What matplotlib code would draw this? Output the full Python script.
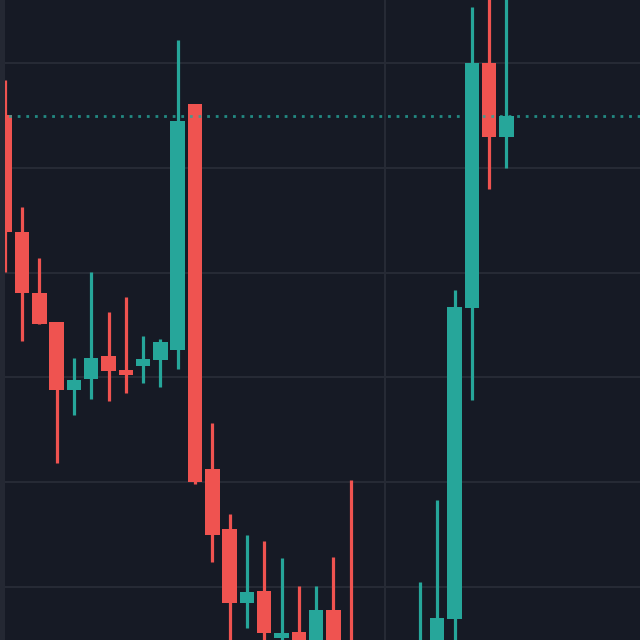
import matplotlib
matplotlib.use("Agg")
import matplotlib.pyplot as plt
from matplotlib.patches import Rectangle

# OHLC data (candle index = position)
opens = [145.04, 133.87, 128.05, 125.29, 118.80, 119.85, 122.04, 120.71, 121.09, 121.66,
         122.61, 146.09, 111.26, 105.53, 98.47, 99.62, 95.13, 95.71, 93.51, 97.81,
         93.00, 90.50, 88.00, 89.50, 91.00, 93.50, 96.95, 126.62, 150.00, 142.94]
highs = [148.38, 136.26, 131.39, 125.29, 121.85, 130.06, 126.24, 127.67, 123.95, 123.66,
         152.19, 146.09, 115.65, 106.97, 104.96, 104.39, 102.77, 100.10, 100.10, 102.86,
         110.21, 92.00, 91.50, 93.00, 100.48, 108.30, 128.34, 155.34, 156.60, 157.00]
lows = [130.06, 123.47, 125.10, 111.83, 116.41, 117.94, 117.75, 118.51, 119.47, 119.08,
        120.80, 109.83, 102.39, 93.99, 96.09, 93.51, 93.80, 92.56, 92.84, 92.08,
        88.50, 86.50, 87.00, 88.50, 90.00, 92.50, 93.99, 117.84, 137.98, 139.98]
closes = [133.87, 128.05, 125.10, 118.80, 119.75, 121.85, 120.61, 120.23, 121.76, 123.38,
          144.47, 110.02, 104.96, 98.47, 99.52, 95.61, 95.61, 93.99, 97.81, 93.03,
          90.50, 88.00, 89.50, 91.00, 93.50, 97.04, 126.72, 150.00, 142.94, 144.94]
grid_prices = [100, 110, 120, 130, 140, 150]
vgrid_index = [22]

UP = "#26a69a"
DOWN = "#ef5350"
BG = "#161a25"
GRID = "#262a35"

fig = plt.figure(figsize=(6.4, 6.4), dpi=100, facecolor=BG)
ax = fig.add_axes([0, 0, 1, 1])
ax.set_facecolor(BG)

for p in grid_prices:
    ax.axhline(p, color=GRID, lw=1.5, zorder=0)
for v in vgrid_index:
    ax.axvline(v, color=GRID, lw=1.5, zorder=0)

body_w = 0.84
for i, (o, h, l, c) in enumerate(zip(opens, highs, lows, closes)):
    col = UP if c >= o else DOWN
    ax.vlines(i, l, h, color=col, lw=2.3, zorder=2)
    bottom = min(o, c)
    height = max(abs(c - o), 0.08)
    ax.add_patch(Rectangle((i - body_w / 2, bottom), body_w, height,
                           facecolor=col, edgecolor="none", zorder=3))

ax.axhline(closes[-1], color=UP, lw=2.0, linestyle=(0, (1, 2.1)), alpha=0.8, zorder=4)

ax.set_xlim(-0.272, 36.72)
ax.set_ylim(94.94, 156.01)
ax.set_xticks([])
ax.set_yticks([])
for s in ax.spines.values():
    s.set_visible(False)

# left pane border strip
fig.add_artist(Rectangle((0, 0), 4.5 / 640, 1, transform=fig.transFigure,
                         facecolor="#242833", edgecolor="none", zorder=10))

fig.savefig("out.png", dpi=100, facecolor=BG)
